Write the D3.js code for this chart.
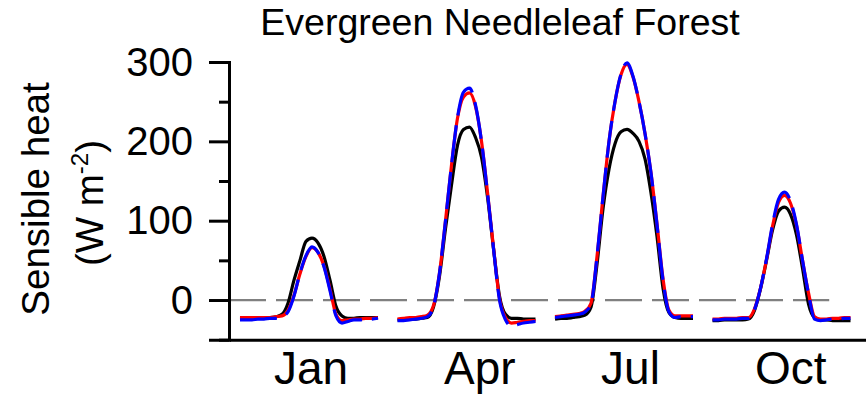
<!DOCTYPE html>
<html>
<head>
<meta charset="utf-8">
<script src="https://cdn.jsdelivr.net/npm/d3@7"></script>
<style>
  body { margin: 0; background: #fff; }
  svg { display: block; }
  text { font-family: "Liberation Sans", Arial, Helvetica, sans-serif; fill: #000; }
</style>
</head>
<body>
<svg id="chart" width="866" height="398"></svg>
<script>
// Mean diurnal cycle of sensible heat flux (W m-2), hourly 00..23, for four months
const months = ["Jan", "Apr", "Jul", "Oct"];
const monthTicks = [11.75, 39.9, 65.0, 91.7];   // label positions on the hour axis
const yMajor = [0, 100, 200, 300];
const yTicks = [-50, 0, 50, 100, 150, 200, 250, 300];

// observed (black)
const obsJan = [-23,-23,-23,-22,-22,-22,-21,-18,-4,25,50,74,78,72,55,25,-8,-20,-23,-23,-22,-22,-22,-22];
const obsApr = [-25,-25,-24,-24,-23,-22,-9,30,90,145,195,215,218,205,180,130,65,5,-18,-23,-23,-24,-24,-24];
const obsJul = [-24,-23,-23,-22,-21,-19,-9,45,115,165,197,212,215,210,200,178,135,80,15,-16,-22,-23,-23,-23];
const obsOct = [-26,-26,-25,-25,-25,-25,-24,-13,14,50,88,112,117,108,82,40,-5,-22,-25,-25,-26,-26,-26,-26];

// simulation A (red, solid)
const simAJan = [-22,-22,-22,-22,-22,-22,-21,-20,-13,6,33,55,66,60,43,14,-18,-26,-25,-24,-24,-23,-23,-22];
const simAApr = [-24,-23,-22,-22,-21,-19,-7,34,100,170,229,256,261,244,200,136,66,2,-22,-29,-28,-27,-26,-26];
const simAJul = [-21,-20,-19,-18,-17,-14,-4,55,130,200,250,284,297,281,250,210,160,96,27,-13,-20,-20,-20,-20];
const simAOct = [-24,-24,-23,-23,-23,-22,-22,-11,15,51,93,123,132,122,94,50,9,-21,-24,-24,-23,-23,-22,-22];

// simulation B (blue, dashed)
const simBJan = [-25,-25,-25,-24,-24,-23,-23,-21,-15,5,34,56,67,60,42,12,-20,-29,-27,-25,-25,-24,-24,-23];
const simBApr = [-26,-26,-25,-24,-23,-21,-8,34,100,170,230,262,267,246,200,135,65,0,-25,-33,-31,-29,-28,-27];
const simBJul = [-22,-21,-20,-19,-18,-15,-5,55,130,200,250,285,299,282,250,210,160,95,25,-15,-22,-21,-21,-21];
const simBOct = [-25,-25,-24,-24,-24,-23,-23,-12,15,52,95,127,136,125,95,50,8,-24,-26,-25,-24,-24,-23,-23];

const series = [
  { name: "obs",  color: "#000000", width: 3.2, dash: null,    months: [obsJan, obsApr, obsJul, obsOct] },
  { name: "simA", color: "#ff0000", width: 3.2, dash: null,    months: [simAJan, simAApr, simAJul, simAOct] },
  { name: "simB", color: "#0000ff", width: 3.2, dash: "37,10", months: [simBJan, simBApr, simBJul, simBOct] }
];

const dayStride = 26.25;   // hours between the start of consecutive month panels
const zeroLineEnd = 98.2;

const svg = d3.select("#chart");

const x = d3.scaleLinear().domain([-1.83, 104.33]).range([229, 866]);
const y = d3.scaleLinear().domain([-50, 300]).range([339.7, 62]);

// zero reference
svg.append("line")
  .attr("x1", x(-1.83)).attr("x2", x(zeroLineEnd))
  .attr("y1", y(0)).attr("y2", y(0))
  .attr("stroke", "#808080").attr("stroke-width", 2.2)
  .attr("stroke-dasharray", "37,10");

const line = d3.line()
  .x(d => x(d.h))
  .y(d => y(d.v))
  .curve(d3.curveMonotoneX);

series.forEach(s => {
  s.months.forEach((vals, g) => {
    const pts = vals.map((v, h) => ({ h: g * dayStride + h, v }));
    svg.append("path")
      .datum(pts)
      .attr("d", line)
      .attr("fill", "none")
      .attr("stroke", s.color)
      .attr("stroke-width", s.width)
      .attr("stroke-linejoin", "round")
      .attr("stroke-dasharray", s.dash);
  });
});

// y axis
const yAxis = d3.axisLeft(y)
  .tickValues(yTicks)
  .tickSizeOuter(0)
  .tickSize(20)
  .tickPadding(16)
  .tickFormat(d => yMajor.includes(d) ? d : "");
const gy = svg.append("g").attr("transform", `translate(${x(-1.83)},0)`).call(yAxis);
gy.select(".domain").attr("stroke-width", 3);
gy.selectAll(".tick line")
  .attr("stroke-width", 3)
  .attr("x2", d => yMajor.includes(d) ? -20 : -10);
gy.selectAll(".tick text")
  .attr("font-size", 40)
  .attr("font-family", "Liberation Sans, Arial, sans-serif")
  .attr("dy", "0.33em");

// x axis
const xAxis = d3.axisBottom(x)
  .tickValues(monthTicks)
  .tickSize(0)
  .tickSizeOuter(0)
  .tickFormat((d, i) => months[i]);
const gx = svg.append("g").attr("transform", `translate(0,${y(-50)})`).call(xAxis);
gx.select(".domain").attr("stroke-width", 3);
gx.selectAll(".tick text")
  .attr("font-size", 46)
  .attr("font-family", "Liberation Sans, Arial, sans-serif")
  .attr("dy", null)
  .attr("y", 44);

// title
svg.append("text")
  .attr("x", 500).attr("y", 35)
  .attr("text-anchor", "middle")
  .attr("font-size", 37.5)
  .text("Evergreen Needleleaf Forest");

// y axis title
const yt = svg.append("g").attr("transform", "translate(49,199) rotate(-90)");
yt.append("text")
  .attr("text-anchor", "middle")
  .attr("font-size", 38.5)
  .text("Sensible heat");
const yt2 = svg.append("g").attr("transform", "translate(103,203) rotate(-90)")
  .append("text")
  .attr("text-anchor", "middle")
  .attr("font-size", 38.5);
yt2.append("tspan").text("(W m");
yt2.append("tspan").attr("font-size", 24).attr("dy", -15).text("-2");
yt2.append("tspan").attr("dy", 15).text(")");
</script>
</body>
</html>
